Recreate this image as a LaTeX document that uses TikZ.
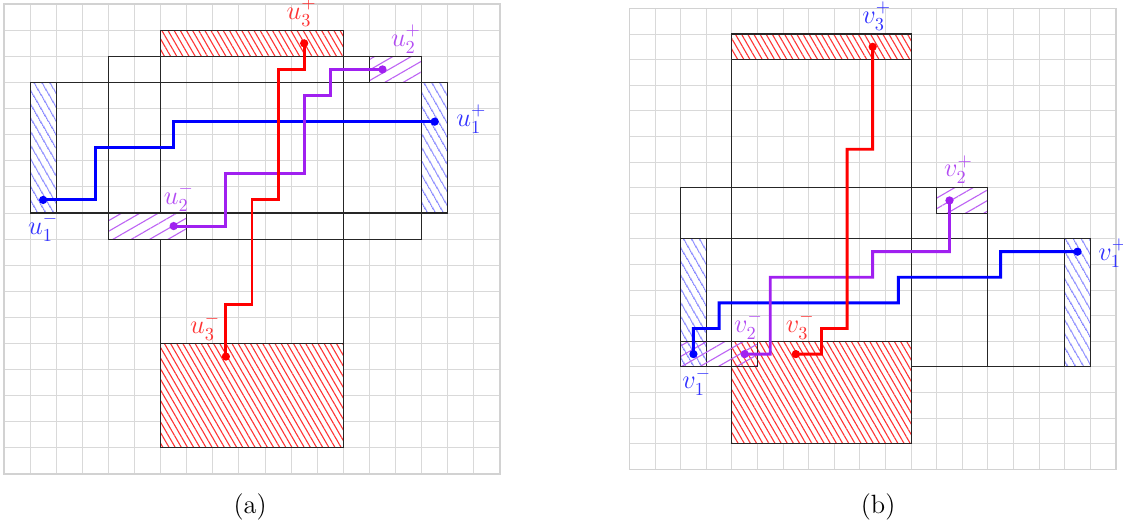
\documentclass[tikz,border=0pt]{standalone}
\usepackage{amsmath,amssymb}
\usepackage{xcolor}
\usepackage{tikz}
\usetikzlibrary{positioning,patterns.meta,calc}
\definecolor{routepurple}{RGB}{160,32,240}

\begin{document}
\begin{tikzpicture}[x=0.5cm, y=0.5cm,
  gridline/.style={gray!30, line width=0.5pt, step=1},
  gridframe/.style={gray!35, line width=0.9pt},
  boxline/.style={black!85, line width=0.6pt},
  hatchred/.style={draw=black!85, line width=0.6pt, pattern={Lines[angle=-60, distance=2.9pt, line width=0.6pt]}, pattern color=red!80},
  hatchblue/.style={draw=black!85, line width=0.6pt, pattern={Lines[angle=-60, distance=4pt, line width=0.6pt]}, pattern color=blue!75},
  hatchpurple/.style={draw=black!85, line width=0.6pt, pattern={Lines[angle=30, distance=5pt, line width=0.6pt]}, pattern color=routepurple!70},
  route/.style={line width=1.6pt, line join=miter},
  dot/.style={circle, fill, inner sep=0pt, minimum size=4.5pt},
  lab/.style={inner sep=1pt, font=\Large}]
\useasboundingbox (-0.153,-2.03) rectangle (42.87,18.16);

% ---- (a)
\draw[gridline] (0,0) grid (19,18);
\draw[gridframe] (0,0) rectangle (19,18);
\draw[boxline] (6,1) rectangle (13,17);
\draw[boxline] (1,10) rectangle (17,15);
\draw[boxline] (4,9) rectangle (16,16);
\fill[white] (6,16) rectangle (13,17) (6,1) rectangle (13,5)
  (1,10) rectangle (2,15) (16,10) rectangle (17,15)
  (4,9) rectangle (7,10) (14,15) rectangle (16,16);
\draw[hatchred] (6,16) rectangle (13,17);
\draw[hatchred] (6,1) rectangle (13,5);
\draw[hatchblue] (1,10) rectangle (2,15);
\draw[hatchblue] (16,10) rectangle (17,15);
\draw[hatchpurple] (4,9) rectangle (7,10);
\draw[hatchpurple] (14,15) rectangle (16,16);

\node[dot, blue] (um1) at (1.5,10.5) {};
\node[dot, blue] (up1) at (16.5,13.5) {};
\node[dot, routepurple] (um2) at (6.5,9.5) {};
\node[dot, routepurple] (up2) at (14.5,15.5) {};
\node[dot, red] (um3) at (8.5,4.5) {};
\node[dot, red] (up3) at (11.5,16.5) {};
\draw[route, blue] (um1.center) -- (3.5,10.5) -- (3.5,12.5) -- (6.5,12.5) -- (6.5,13.5) -- (up1.center);
\draw[route, routepurple] (um2.center) -- (8.5,9.5) -- (8.5,11.5) -- (11.5,11.5) -- (11.5,14.5)
  -- (12.5,14.5) -- (12.5,15.5) -- (up2.center);
\draw[route, red] (um3.center) -- (8.5,6.5) -- (9.5,6.5) -- (9.5,10.5) -- (10.5,10.5)
  -- (10.5,15.5) -- (11.5,15.5) -- (up3.center);

\node[lab, text=blue!80] (lum1) at (1.5,9.45) {$u_1^-$};
\node[lab, text=blue!80] (lup1) at (17.9,13.6) {$u_1^+$};
\node[lab, text=routepurple!80] (lum2) at (6.7,10.6) {$u_2^-$};
\node[lab, text=routepurple!80] (lup2) at (15.4,16.65) {$u_2^+$};
\node[lab, text=red!80] (lum3) at (7.7,5.64) {$u_3^-$};
\node[lab, text=red!80] (lup3) at (11.4,17.7) {$u_3^+$};
\node[font=\Large] (capa) at (9.43,-1.26) {(a)};

% ---- (b)
\begin{scope}[shift={(23.96,0.18)}, scale=0.981]
\draw[gridline] (0,0) grid (19,18);
\draw[gridframe] (0,0) rectangle (19,18);
\draw[boxline] (4,1) rectangle (11,17);
\draw[boxline] (2,4) rectangle (18,9);
\draw[boxline] (2,4) rectangle (14,11);
\fill[white] (4,16) rectangle (11,17) (4,1) rectangle (11,5)
  (2,4) rectangle (3,9) (17,4) rectangle (18,9)
  (2,4) rectangle (5,5) (12,10) rectangle (14,11);
\draw[hatchred] (4,16) rectangle (11,17);
\draw[hatchred] (4,1) rectangle (11,5);
\draw[hatchblue] (2,4) rectangle (3,9);
\draw[hatchblue] (17,4) rectangle (18,9);
\draw[hatchpurple] (2,4) rectangle (5,5);
\draw[hatchpurple] (12,10) rectangle (14,11);

\node[dot, blue] (vm1) at (2.5,4.5) {};
\node[dot, blue] (vp1) at (17.5,8.5) {};
\node[dot, routepurple] (vm2) at (4.5,4.5) {};
\node[dot, routepurple] (vp2) at (12.5,10.5) {};
\node[dot, red] (vm3) at (6.5,4.5) {};
\node[dot, red] (vp3) at (9.5,16.5) {};
\draw[route, blue] (vm1.center) -- (2.5,5.5) -- (3.5,5.5) -- (3.5,6.5) -- (10.5,6.5)
  -- (10.5,7.5) -- (14.5,7.5) -- (14.5,8.5) -- (vp1.center);
\draw[route, routepurple] (vm2.center) -- (5.5,4.5) -- (5.5,7.5) -- (9.5,7.5) -- (9.5,8.5)
  -- (12.5,8.5) -- (vp2.center);
\draw[route, red] (vm3.center) -- (7.5,4.5) -- (7.5,5.5) -- (8.5,5.5) -- (8.5,12.5)
  -- (9.5,12.5) -- (vp3.center);

\node[lab, text=blue!80] (lvm1) at (2.63,3.42) {$v_1^-$};
\node[lab, text=blue!80] (lvp1) at (18.87,8.45) {$v_1^+$};
\node[lab, text=routepurple!80] (lvm2) at (4.65,5.64) {$v_2^-$};
\node[lab, text=routepurple!80] (lvp2) at (12.85,11.7) {$v_2^+$};
\node[lab, text=red!80] (lvm3) at (6.67,5.64) {$v_3^-$};
\node[lab, text=blue!80] (lvp3) at (9.66,17.7) {$v_3^+$};
\end{scope}
\node[font=\Large] (capb) at (33.49,-1.26) {(b)};
\end{tikzpicture}
\end{document}
